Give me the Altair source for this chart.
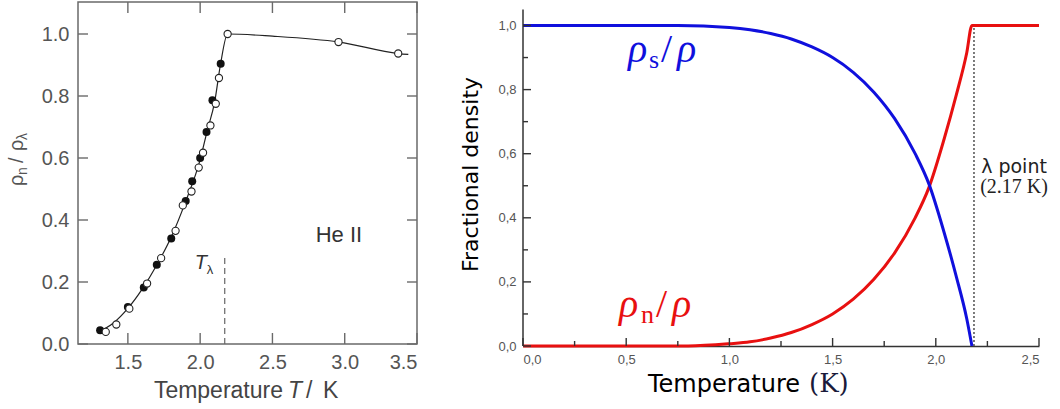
import altair as alt
import pandas as pd

# ---------------- left panel: measured rho_n / rho_lambda ----------------
filled_T = [1.308, 1.50, 1.61, 1.70, 1.80, 1.90, 1.945, 2.00, 2.044, 2.085, 2.142]
filled_r = [0.044, 0.119, 0.182, 0.256, 0.340, 0.461, 0.525, 0.600, 0.684, 0.786, 0.904]
open_T = [1.347, 1.42, 1.51, 1.633, 1.73, 1.83, 1.88, 1.94, 1.99, 2.02, 2.071, 2.108, 2.13, 2.19, 2.957, 3.37]
open_r = [0.039, 0.063, 0.114, 0.195, 0.277, 0.365, 0.447, 0.492, 0.569, 0.617, 0.705, 0.775, 0.858, 1.0, 0.974, 0.937]
line_T = [1.30, 1.40, 1.50, 1.60, 1.70, 1.80, 1.90, 2.00, 2.05, 2.10, 2.14, 2.19, 2.50, 2.96, 3.37, 3.44]
line_r = [0.040, 0.068, 0.115, 0.178, 0.255, 0.345, 0.460, 0.595, 0.690, 0.780, 0.900, 1.0, 0.993, 0.974, 0.937, 0.934]
left_xticks = [1.5, 2.0, 2.5, 3.0, 3.5]
left_yticks = [0.0, 0.2, 0.4, 0.6, 0.8, 1.0]
lambda_T = 2.17
lambda_dash_top = 0.29

# ---------------- right panel: two-fluid fractions ----------------
sup_T = [0.0, 0.75, 1.0, 1.1, 1.2, 1.3, 1.4, 1.5, 1.6, 1.7, 1.8, 1.9, 1.967, 2.04, 2.1, 2.15, 2.175]
sup_r = [1.0, 1.0, 0.994, 0.987, 0.975, 0.958, 0.933, 0.900, 0.854, 0.792, 0.710, 0.600, 0.505, 0.355, 0.215, 0.085, 0.0]
nor_T = [0.0, 0.8, 1.0, 1.1, 1.2, 1.3, 1.4, 1.5, 1.6, 1.7, 1.8, 1.9, 1.967, 2.04, 2.1, 2.15, 2.175, 2.5]
nor_r = [0.0, 0.0, 0.007, 0.013, 0.025, 0.042, 0.067, 0.100, 0.146, 0.208, 0.290, 0.400, 0.495, 0.645, 0.785, 0.915, 1.0, 1.0]
right_xticks = [0.0, 0.5, 1.0, 1.5, 2.0, 2.5]
right_xminor = [0.25, 0.75, 1.25, 1.75, 2.25]
right_yticks = [0.0, 0.2, 0.4, 0.6, 0.8, 1.0]
right_yminor = [0.1, 0.3, 0.5, 0.7, 0.9]
lambda_line_T = 2.185

LW, LH = 339, 342
RW, RH = 516, 344
GRAY = "#555555"
FRAME = "#6a6a6a"

one = pd.DataFrame({"a": [0]})

# ---------------- left chart ----------------
xL = alt.X("T:Q", scale=alt.Scale(domain=[1.155, 3.5], nice=False, zero=False),
           axis=alt.Axis(values=left_xticks, format=".1f", labelFont="Liberation Sans",
                         labelFontSize=20, labelColor=GRAY, ticks=False, domain=False,
                         grid=False, labelPadding=8),
           title=None)
yL = alt.Y("r:Q", scale=alt.Scale(domain=[0, LH / 310.0], nice=False, zero=False),
           axis=alt.Axis(values=left_yticks, format=".1f", labelFont="Liberation Sans",
                         labelFontSize=20, labelColor=GRAY, ticks=False, domain=False,
                         grid=False, labelPadding=9),
           title=None)

l_line = alt.Chart(pd.DataFrame({"T": line_T, "r": line_r})).mark_line(
    color="#222222", strokeWidth=1.2, interpolate="monotone").encode(x=xL, y=yL)
l_filled = alt.Chart(pd.DataFrame({"T": filled_T, "r": filled_r})).mark_point(
    shape="circle", filled=True, color="#111111", size=64, opacity=1).encode(x=xL, y=yL)
l_open = alt.Chart(pd.DataFrame({"T": open_T, "r": open_r})).mark_point(
    shape="circle", filled=True, fill="white", stroke="#222222", strokeWidth=1.1,
    size=52, opacity=1).encode(x=xL, y=yL)
l_dash = alt.Chart(pd.DataFrame({"T": [lambda_T], "r": [0.0], "r2": [lambda_dash_top]})).mark_rule(
    color="#666666", strokeWidth=1.2, strokeDash=[6, 4]).encode(x=xL, y=yL, y2="r2")

ly = pd.DataFrame({"r": left_yticks})
lx = pd.DataFrame({"T": left_xticks})
tick_style = dict(color=FRAME, strokeWidth=1.4)
l_tick_left = alt.Chart(ly).mark_rule(**tick_style).encode(y=yL, x=alt.value(0), x2=alt.value(10))
l_tick_right = alt.Chart(ly).mark_rule(**tick_style).encode(y=yL, x=alt.value(LW), x2=alt.value(LW - 10))
l_tick_bot = alt.Chart(lx).mark_rule(**tick_style).encode(x=xL, y=alt.value(LH), y2=alt.value(LH - 11))
l_tick_top = alt.Chart(lx).mark_rule(**tick_style).encode(x=xL, y=alt.value(0), y2=alt.value(11))

def ltext(T, r, text, **kw):
    return alt.Chart(pd.DataFrame({"T": [T], "r": [r]})).mark_text(
        text=text, baseline="alphabetic", **kw).encode(x=xL, y=yL)

l_he = ltext(2.96, 0.33, "He II", align="center", font="Liberation Sans", fontSize=22, color="#333333")
l_T = ltext(1.962, 0.242, "T", align="left", font="Liberation Sans", fontStyle="italic",
            fontSize=20, color="#333333")
l_lam = ltext(1.962, 0.242, "λ", align="left", font="Liberation Sans", fontSize=13,
              color="#333333", dx=12, dy=5)

def ptext(x, y, text, **kw):
    return alt.Chart(one).mark_text(text=text, baseline="alphabetic", **kw).encode(
        x=alt.value(x), y=alt.value(y))

# x title "Temperature T / K"
TSTY = dict(font="Liberation Sans", fontSize=23, color="#444444")
l_xt1 = ptext(205, 396, "Temperature", align="right", **TSTY)
l_xt2 = ptext(210, 396, "T", align="left", fontStyle="italic", **TSTY)
l_xt3 = ptext(228, 396, "/", align="left", **TSTY)
l_xt4 = ptext(245, 396, "K", align="left", **TSTY)

# y title "rho_n / rho_lambda" (rotated)
def rtext(text, dx, dy, size):
    return alt.Chart(one).mark_text(text=text, angle=270, align="left", baseline="alphabetic",
                                    dx=dx, dy=dy, font="Liberation Sans", fontSize=size,
                                    color=GRAY).encode(x=alt.value(-55), y=alt.value(184))

l_yt = [rtext("ρ", 0, 0, 20), rtext("n", 11, 4, 14), rtext("/", 23, 0, 20),
        rtext("ρ", 35, 0, 20), rtext("λ", 46, 4, 14)]

left = alt.layer(l_line, l_filled, l_open, l_dash, l_tick_left, l_tick_right, l_tick_bot,
                 l_tick_top, l_he, l_T, l_lam, l_xt1, l_xt2, l_xt3, l_xt4, *l_yt).properties(
    width=LW, height=LH, view=alt.ViewBackground(stroke=FRAME, strokeWidth=1.5))

# ---------------- right chart ----------------
label_expr = "replace(format(datum.value, '.1f'), '.', ',')"
xR = alt.X("T:Q", scale=alt.Scale(domain=[0, 2.5], nice=False, zero=False),
           axis=alt.Axis(values=right_xticks, labelExpr=label_expr, labelFont="Liberation Sans",
                         labelFontSize=13, labelColor=GRAY, ticks=False, domain=True,
                         domainColor="#333333", domainWidth=1.5, grid=False, labelPadding=7),
           title=None)
yR = alt.Y("r:Q", scale=alt.Scale(domain=[0, RH / 320.5], nice=False, zero=False),
           axis=alt.Axis(values=right_yticks, labelExpr=label_expr, labelFont="Liberation Sans",
                         labelFontSize=13, labelColor=GRAY, ticks=False, domain=False,
                         grid=False, labelPadding=7, title="Fractional density",
                         titleFont="DejaVu Sans", titleFontSize=22, titleFontWeight="normal",
                         titleColor="black", titlePadding=15))

r_axis = alt.Chart(pd.DataFrame({"r": [0.0], "r2": [1.05]})).mark_rule(
    color="#333333", strokeWidth=1.5).encode(x=alt.value(0), y=yR, y2="r2")
rtick = dict(color="#333333", strokeWidth=1.4)
r_ty = alt.Chart(pd.DataFrame({"r": right_yticks})).mark_rule(**rtick).encode(
    y=yR, x=alt.value(0), x2=alt.value(8))
r_tym = alt.Chart(pd.DataFrame({"r": right_yminor})).mark_rule(**rtick).encode(
    y=yR, x=alt.value(0), x2=alt.value(5))
r_tx = alt.Chart(pd.DataFrame({"T": right_xticks})).mark_rule(**rtick).encode(
    x=xR, y=alt.value(RH), y2=alt.value(RH - 8))
r_txm = alt.Chart(pd.DataFrame({"T": right_xminor})).mark_rule(**rtick).encode(
    x=xR, y=alt.value(RH), y2=alt.value(RH - 5))

r_lam = alt.Chart(pd.DataFrame({"T": [lambda_line_T], "r": [0.0], "r2": [1.0]})).mark_rule(
    color="#444444", strokeWidth=1.4, strokeDash=[2, 2]).encode(x=xR, y=yR, y2="r2")
BLUE = "#1010dd"
RED = "#e81010"
r_sup = alt.Chart(pd.DataFrame({"T": sup_T, "r": sup_r})).mark_line(
    color=BLUE, strokeWidth=3, interpolate="monotone").encode(x=xR, y=yR)
r_nor = alt.Chart(pd.DataFrame({"T": nor_T, "r": nor_r})).mark_line(
    color=RED, strokeWidth=3, interpolate="monotone").encode(x=xR, y=yR)

def rt(T, r, text, **kw):
    return alt.Chart(pd.DataFrame({"T": [T], "r": [r]})).mark_text(
        text=text, baseline="alphabetic", **kw).encode(x=xR, y=yR)

SERIF = "Liberation Serif"
lab_s = [
    rt(0.509, 0.886, "ρ", align="left", font=SERIF, fontStyle="italic", fontSize=40, color=BLUE),
    rt(0.509, 0.886, "s", align="left", font=SERIF, fontSize=26, color=BLUE, dx=21, dy=6),
    rt(0.509, 0.886, "/", align="left", font=SERIF, fontSize=40, color=BLUE, dx=33),
    rt(0.509, 0.886, "ρ", align="left", font=SERIF, fontStyle="italic", fontSize=40, color=BLUE, dx=49),
]
lab_n = [
    rt(0.465, 0.09, "ρ", align="left", font=SERIF, fontStyle="italic", fontSize=40, color=RED),
    rt(0.465, 0.09, "n", align="left", font=SERIF, fontSize=26, color=RED, dx=22, dy=6),
    rt(0.465, 0.09, "/", align="left", font=SERIF, fontSize=40, color=RED, dx=37),
    rt(0.465, 0.09, "ρ", align="left", font=SERIF, fontStyle="italic", fontSize=40, color=RED, dx=53),
]
lam_lab = [
    rt(2.379, 0.54, "λ point", align="center", font="DejaVu Sans", fontSize=19, color="#222222"),
    rt(2.379, 0.477, "(2.17 K)", align="center", font=SERIF, fontSize=20, color="#222222"),
]
r_xt1 = ptext(125, 390, "Temperature", align="left", font="DejaVu Sans", fontSize=24, color="black")
r_xt2 = ptext(286, 390, "(K)", align="left", font="DejaVu Serif", fontSize=26, color="#1a1a3a")

right = alt.layer(r_lam, r_nor, r_sup, r_axis, r_ty, r_tym, r_tx, r_txm, *lab_s, *lab_n,
                  *lam_lab, r_xt1, r_xt2).properties(
    width=RW, height=RH, view=alt.ViewBackground(stroke="transparent"))

chart = alt.hconcat(left, right, spacing=106, bounds="flush").properties(
    padding={"left": 6, "top": 0, "right": 0, "bottom": 0},
    background="white",
)

chart.save("out.html", embed_options={"renderer": "svg", "actions": False})
